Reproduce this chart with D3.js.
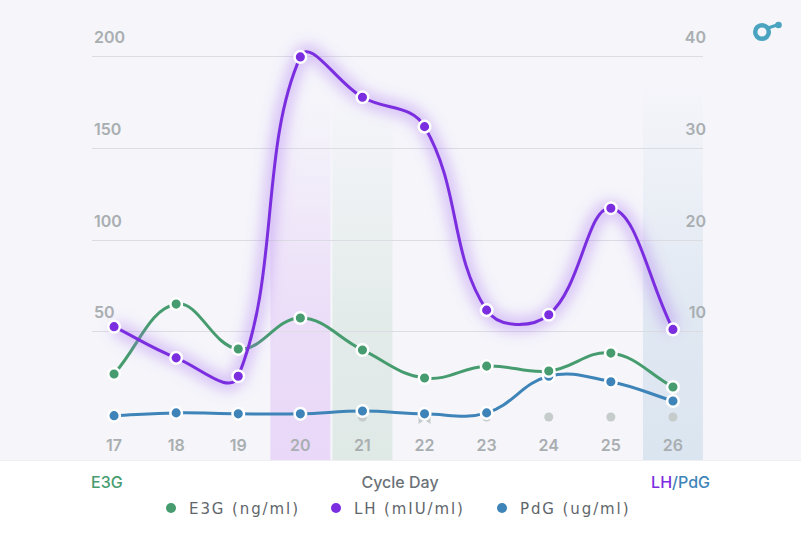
<!DOCTYPE html>
<html><head><meta charset="utf-8">
<script src="https://cdn.jsdelivr.net/npm/d3@7"></script>
<style>
html,body{margin:0;padding:0;background:#fff;}
svg{display:block;}
</style></head>
<body>
<svg id="c" width="801" height="533"></svg>
<script>
const days = [17,18,19,20,21,22,23,24,25,26];
const e3g = [26.7,64.8,40.3,57.2,39.8,24.5,31,28.3,38.1,19.6];
const lh  = [10.5,7.1,5.1,39.9,35.5,32.3,12.3,11.8,23.4,10.2];
const pdg = [0.8,1.1,1.0,1.0,1.3,1.0,1.1,5.1,4.5,2.4];
const leftTicks = [50,100,150,200];
const rightTicks = [10,20,30,40];
const testDays = [21,23,24,25,26];
const peakDay = [22];
const bands = [{day:20,c:"#e9d8f8"},{day:21,c:"#dfe9e6"},{day:26,c:"#dbe5f0"}];

const colE3G="#469c6f", colLH="#7b2ee0", colPdG="#3e84b8";
const svg = d3.select("#c");
const W=801,H=533;
const x = d3.scaleBand().domain(days).range([83,704]);
const cx = d => x(d)+x.bandwidth()/2;
const yL = d3.scaleLinear().domain([0,200]).range([423,56]);
const yR = d3.scaleLinear().domain([0,40]).range([423,56]);

const defs = svg.append("defs");
svg.append("rect").attr("width",W).attr("height",460).attr("fill","#f5f5fa");
svg.append("rect").attr("y",460).attr("width",W).attr("height",73).attr("fill","#ffffff");
svg.append("line").attr("x1",0).attr("x2",W).attr("y1",460.5).attr("y2",460.5).attr("stroke","#eeeef3");

// bands
bands.forEach((b,i)=>{
  const g = defs.append("linearGradient").attr("id","bg"+i).attr("x1",0).attr("x2",0).attr("y1",0).attr("y2",1);
  g.append("stop").attr("offset","0%").attr("stop-color",b.c).attr("stop-opacity",0);
  g.append("stop").attr("offset","60%").attr("stop-color",b.c).attr("stop-opacity",0.8);
  g.append("stop").attr("offset","100%").attr("stop-color",b.c).attr("stop-opacity",1);
  svg.append("rect").attr("x",cx(b.day)-30).attr("width",60)
    .attr("y",b.day===26?86:100).attr("height",460-(b.day===26?86:100))
    .attr("fill","url(#bg"+i+")");
});

// grid
svg.append("g").selectAll("line").data(leftTicks).join("line")
  .attr("x1",92).attr("x2",703).attr("y1",d=>Math.round(yL(d))+0.5).attr("y2",d=>Math.round(yL(d))+0.5)
  .attr("stroke","#dcdde2").attr("stroke-width",1);

const tickFont = "Inter, 'Open Sans', sans-serif";
svg.append("g").selectAll("text").data(leftTicks).join("text")
  .attr("x",94).attr("y",d=>yL(d)-13).text(d=>d)
  .attr("font-family",tickFont).attr("font-size",16).attr("font-weight",600).attr("fill","#a9aeb1");
svg.append("g").selectAll("text").data(rightTicks).join("text")
  .attr("x",706).attr("y",d=>yR(d)-13).attr("text-anchor","end").text(d=>d)
  .attr("font-family",tickFont).attr("font-size",16).attr("font-weight",600).attr("fill","#a9aeb1");
svg.append("g").selectAll("text").data(days).join("text")
  .attr("x",d=>cx(d)).attr("y",451).attr("text-anchor","middle").text(d=>d)
  .attr("font-family",tickFont).attr("font-size",16).attr("font-weight",600).attr("fill","#a9aeb1");

// test markers
svg.append("g").selectAll("circle").data(testDays).join("circle")
  .attr("cx",d=>cx(d)).attr("cy",417).attr("r",4.5).attr("fill","#c5cccb");
peakDay.forEach(d=>{
  const X=cx(d), Y=417;
  svg.append("path").attr("d",`M${X-6},${Y-2} L${X+6},${Y-2} L${X+6},${Y+7} L${X},${Y+3} L${X-6},${Y+7} Z`).attr("fill","#c5cccb");
});

// Chart.js-like spline
function splinePath(pts, t){
  const cps = pts.map((p,i)=>{
    const prev = pts[i-1]||p, next = pts[i+1]||p;
    const d01 = Math.hypot(p[0]-prev[0],p[1]-prev[1]);
    const d12 = Math.hypot(next[0]-p[0],next[1]-p[1]);
    let s01 = d01/(d01+d12), s12 = d12/(d01+d12);
    if(!isFinite(s01)) s01=0; if(!isFinite(s12)) s12=0;
    const fa=t*s01, fb=t*s12;
    return {
      prev:[p[0]-fa*(next[0]-prev[0]), p[1]-fa*(next[1]-prev[1])],
      next:[p[0]+fb*(next[0]-prev[0]), p[1]+fb*(next[1]-prev[1])]
    };
  });
  const path = d3.path();
  path.moveTo(pts[0][0],pts[0][1]);
  for(let i=1;i<pts.length;i++){
    const a=cps[i-1].next, b=cps[i].prev;
    path.bezierCurveTo(a[0],a[1],b[0],b[1],pts[i][0],pts[i][1]);
  }
  return path.toString();
}

const glow = defs.append("filter").attr("id","glow").attr("x","-20%").attr("y","-20%").attr("width","140%").attr("height","140%");
glow.append("feGaussianBlur").attr("stdDeviation",7);

const series = [
  {vals:pdg, y:yR, col:colPdG},
  {vals:e3g, y:yL, col:colE3G},
  {vals:lh,  y:yR, col:colLH, glow:true}
];
series.forEach(s=>{
  const pts = days.map((d,i)=>[cx(d), s.y(s.vals[i])]);
  const dstr = splinePath(pts,0.4);
  if(s.glow){
    svg.append("path").attr("d",dstr).attr("fill","none").attr("stroke","#a46cf0")
      .attr("stroke-width",14).attr("stroke-opacity",0.4).attr("filter","url(#glow)");
  }
  svg.append("path").attr("d",dstr).attr("fill","none").attr("stroke",s.col).attr("stroke-width",3);
});
series.forEach(s=>{
  svg.append("g").selectAll("circle").data(days).join("circle")
    .attr("cx",d=>cx(d)).attr("cy",(d,i)=>s.y(s.vals[i])).attr("r",5.8)
    .attr("fill",s.col).attr("stroke","#fff").attr("stroke-width",2.5);
});

// axis titles
const labFont = "Inter, 'Open Sans', sans-serif";
svg.append("text").attr("x",91).attr("y",488).text("E3G").attr("font-family",labFont).attr("font-size",16).attr("font-weight",500).attr("fill",colE3G);
svg.append("text").attr("x",400).attr("y",488).attr("text-anchor","middle").text("Cycle Day").attr("font-family",labFont).attr("font-size",16).attr("font-weight",500).attr("fill","#6b7277");
const rt = svg.append("text").attr("x",710).attr("y",488).attr("text-anchor","end").attr("font-family",labFont).attr("font-size",16).attr("font-weight",500);
rt.append("tspan").attr("fill",colLH).text("LH");
rt.append("tspan").attr("fill",colPdG).text("/PdG");

// legend
const legend = [{n:"E3G (ng/ml)",c:colE3G,x:171},{n:"LH (mIU/ml)",c:colLH,x:336},{n:"PdG (ug/ml)",c:colPdG,x:502}];
const lg = svg.append("g").selectAll("g").data(legend).join("g");
lg.append("circle").attr("cx",d=>d.x).attr("cy",508).attr("r",5).attr("fill",d=>d.c);
lg.append("text").attr("x",d=>d.x+18).attr("y",514).text(d=>d.n)
  .attr("font-family","'DejaVu Sans', sans-serif").attr("font-size",15).attr("letter-spacing",1.9).attr("fill","#5f666b");

// logo
const logo = svg.append("g").attr("fill","none").attr("stroke","#4aa3bf");
logo.append("circle").attr("cx",762).attr("cy",32).attr("r",6.8).attr("stroke-width",4.5);
logo.append("line").attr("x1",768).attr("y1",28).attr("x2",777).attr("y2",25).attr("stroke-width",3.2);
svg.append("circle").attr("cx",778.5).attr("cy",25).attr("r",3.3).attr("fill","#4aa3bf");
</script>
</body></html>
